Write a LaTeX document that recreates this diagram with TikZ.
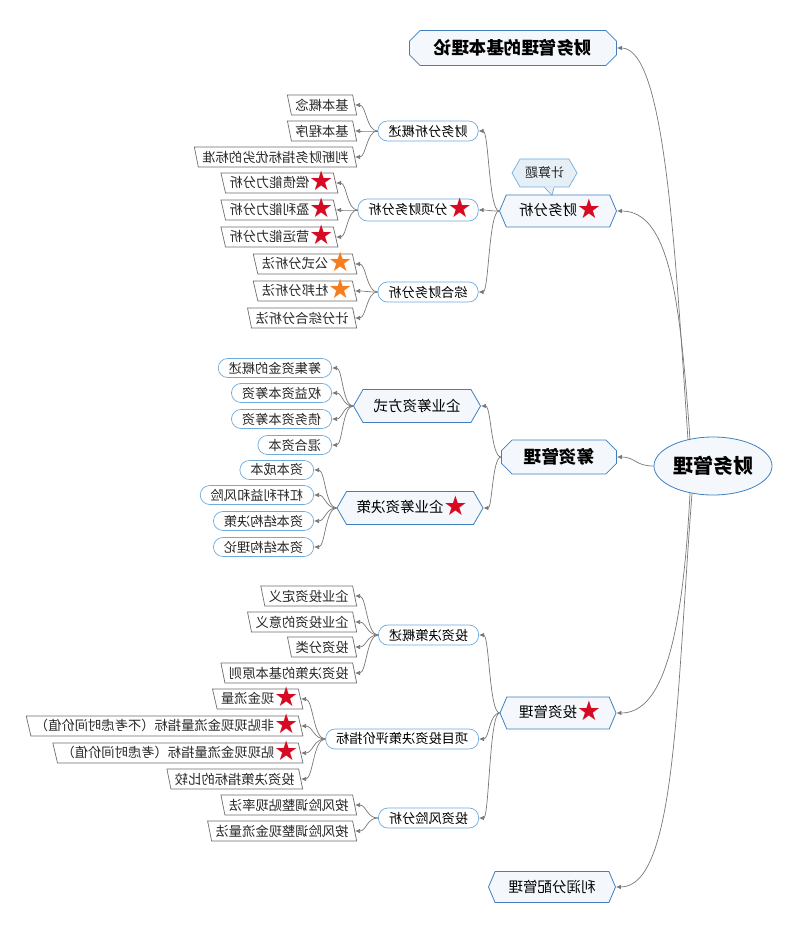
\documentclass[tikz,border=0pt]{standalone}
\usepackage{fontspec}
\setmainfont{Noto Sans CJK SC}
\newfontfamily\starfont{DejaVu Sans}
\usetikzlibrary{shapes.geometric,shapes.misc,shapes.symbols,arrows.meta,calc}
\definecolor{mblue}{RGB}{64,128,190}
\definecolor{mfill}{RGB}{244,248,252}
\definecolor{lblue}{RGB}{110,172,222}
\definecolor{lgray}{RGB}{110,110,110}
\definecolor{egray}{RGB}{120,120,120}
\definecolor{cfill}{RGB}{230,238,246}
\definecolor{cblue}{RGB}{110,175,225}
\definecolor{sred}{RGB}{215,10,35}
\definecolor{sorg}{RGB}{245,125,30}
\definecolor{tgray}{RGB}{40,40,40}
\newcommand{\redstar}{\makebox[16pt][c]{\raisebox{-3pt}{\smash{\starfont\fontsize{27}{27}\selectfont\textcolor{sred}{★}}}}\hspace{4pt}}
\newcommand{\orgstar}{\makebox[16pt][c]{\raisebox{-3pt}{\smash{\starfont\fontsize{27}{27}\selectfont\textcolor{sorg}{★}}}}\hspace{4pt}}
\tikzset{
  rootn/.style={ellipse, draw=mblue, fill=mfill, line width=0.8pt, minimum width=118pt, minimum height=58pt, inner sep=0pt, font=\fontsize{20}{22}\selectfont\bfseries},
  octn/.style={chamfered rectangle, chamfered rectangle xsep=7pt, draw=mblue, fill=mfill, line width=0.8pt, inner sep=0pt, font=\fontsize{17.5}{19}\selectfont\bfseries},
  hexn/.style={signal, signal to=east and west, signal pointer angle=134, draw=mblue, fill=mfill, line width=0.8pt, inner xsep=2pt, inner ysep=0pt, minimum height=32pt, font=\fontsize{14.5}{16}\selectfont},
  subhex/.style={hexn, signal pointer angle=120, minimum height=33pt},
  caln/.style={signal, signal to=east and west, signal pointer angle=120, draw=cblue, fill=cfill, line width=0.7pt, inner xsep=2pt, inner ysep=0pt, minimum width=65pt, minimum height=28pt, text=tgray, font=\fontsize{13}{15}\selectfont},
  pill/.style={rectangle, rounded corners=9.5pt, draw=lblue, fill=white, line width=0.7pt, minimum height=20pt, inner xsep=10.5pt, inner ysep=0pt, font=\fontsize{13.2}{15}\selectfont},
  leafr/.style={pill, text=tgray, minimum height=19pt},
  leafp/.style={trapezium, trapezium left angle=72, trapezium right angle=108, trapezium stretches body, draw=lgray, fill=white, line width=0.7pt, minimum height=20pt, inner xsep=4pt, inner ysep=0pt, text=tgray, font=\fontsize{13.3}{15}\selectfont},
  arr/.style={draw=egray, line width=0.7pt, -{Latex[length=5pt,width=4.5pt]}},
  sc/.style={to path={let \p1=(\tikztostart), \p2=(\tikztotarget) in (\tikztostart) .. controls ({(\x1+\x2)/2},\y1) and ({(\x1+\x2)/2},\y2) .. (\tikztotarget) \tikztonodes}}
}
\begin{document}
\begin{tikzpicture}[x=1pt,y=-1pt, every node/.append style={xscale=-1}]
\fill[white] (0,0) rectangle (800,933);
\useasboundingbox (0,0) rectangle (800,933);

% level 0 and 1
\node[rootn] (root) at (713,466) {财务管理};
\node[octn, minimum width=207pt, minimum height=35pt] (top) at (513,48) {财务管理的基本理论};
\node[hexn, minimum width=117pt] (fa) at (558,211) {\redstar 财务分析};
\node[caln] (cal) at (544.5,173) {计算题};
\node[octn, minimum width=115pt, minimum height=34pt] (cz) at (559,457) {筹资管理};
\node[hexn, minimum width=116pt] (tz) at (558,713) {\redstar 投资管理};
\node[hexn, minimum width=127pt, minimum height=31pt] (lr) at (552,887) {利润分配管理};

% callout tail
\fill[cfill] ($(cal.south)+(0,-1)$) -- ($(cal.south)+(7.5,8)$) -- ($(cal.south)+(9.5,-1)$) -- cycle;
\draw[cblue, line width=0.7pt] (cal.south) -- ($(cal.south)+(7.5,8)$) -- ($(cal.south)+(9.5,0)$);

% level 2
\node[pill, anchor=west] (fa1) at (478.5,131) {财务分析概述};
\node[pill, anchor=west, minimum height=22pt] (fa2) at (478.5,210) {\redstar 分项财务分析};
\node[pill, anchor=west] (fa3) at (478.5,292) {综合财务分析};
\node[subhex, minimum width=127pt] (cz1) at (417,406) {企业筹资方式};
\node[subhex, minimum width=146pt] (cz2) at (410,508) {\redstar 企业筹资决策};
\node[pill, anchor=west] (tz1) at (479,635) {投资决策概述};
\node[pill, anchor=west] (tz2) at (479,739) {项目投资决策评价指标};
\node[pill, anchor=west] (tz3) at (479,818) {投资风险分析};

% leaves
\node[leafp, anchor=west] (a1) at (355,105) {基本概念};
\node[leafp, anchor=west] (a2) at (355,131) {基本程序};
\node[leafp, anchor=west] (a3) at (355,157) {判断财务指标优劣的标准};
\node[leafp, anchor=west] (b1) at (336,183) {\redstar 偿债能力分析};
\node[leafp, anchor=west] (b2) at (336,210) {\redstar 盈利能力分析};
\node[leafp, anchor=west] (b3) at (336,237) {\redstar 营运能力分析};
\node[leafp, anchor=west] (c1) at (355,264) {\orgstar 公式分析法};
\node[leafp, anchor=west] (c2) at (355,291) {\orgstar 杜邦分析法};
\node[leafp, anchor=west] (c3) at (355,318) {计分综合分析法};
\node[leafr, anchor=west] (d1) at (332,368) {筹集资金的概述};
\node[leafr, anchor=west] (d2) at (332,393) {权益资本筹资};
\node[leafr, anchor=west] (d3) at (332,419) {债务资本筹资};
\node[leafr, anchor=west] (d4) at (332,445) {混合资本};
\node[leafr, anchor=west] (e1) at (314,470) {资本成本};
\node[leafr, anchor=west] (e2) at (314,495) {杠杆利益和风险};
\node[leafr, anchor=west] (e3) at (314,521) {资本结构决策};
\node[leafr, anchor=west] (e4) at (314,547) {资本结构理论};
\node[leafp, anchor=west] (f1) at (355,596) {企业投资定义};
\node[leafp, anchor=west] (f2) at (355,622) {企业投资的意义};
\node[leafp, anchor=west] (f3) at (355,647) {投资分类};
\node[leafp, anchor=west] (f4) at (355,673) {投资决策的基本原则};
\node[leafp, anchor=west] (g1) at (301,699) {\redstar 现金流量};
\node[leafp, anchor=west] (g2) at (301,726) {\redstar 非贴现现金流量指标（不考虑时间价值）};
\node[leafp, anchor=west] (g3) at (301,753) {\redstar 贴现现金流量指标（考虑时间价值）};
\node[leafp, anchor=west] (g4) at (301,779) {投资决策指标的比较};
\node[leafp, anchor=west] (h1) at (355,805) {按风险调整贴现率法};
\node[leafp, anchor=west] (h2) at (355,831) {按风险调整现金流量法};

% root edges
\draw[arr] ($(root.center)+(-25,-26)$) .. controls (675,250) and (665,48) .. (top.west);
\draw[arr] ($(root.center)+(-23,-26.5)$) .. controls (680,300) and (670,211) .. (fa.west);
\draw[arr, sc] (root.east) to (cz.west);
\draw[arr] ($(root.center)+(-23,27)$) .. controls (682,650) and (660,713) .. (tz.west);
\draw[arr] ($(root.center)+(-21,27.5)$) .. controls (676,700) and (676,887) .. (lr.west);

% level 1 -> 2
\foreach \k in {fa1,fa2,fa3} \draw[arr, sc] (fa.east) to (\k.west);
\foreach \k in {cz1,cz2} \draw[arr, sc] (cz.east) to (\k.west);
\foreach \k in {tz1,tz2,tz3} \draw[arr, sc] (tz.east) to (\k.west);

% level 2 -> leaves
\foreach \k in {a1,a2,a3} \draw[arr, sc] (fa1.east) to (\k.west);
\foreach \k in {b1,b2,b3} \draw[arr, sc] (fa2.east) to (\k.west);
\foreach \k in {c1,c2,c3} \draw[arr, sc] (fa3.east) to (\k.west);
\foreach \k in {d1,d2,d3,d4} \draw[arr, sc] (cz1.east) to (\k.west);
\foreach \k in {e1,e2,e3,e4} \draw[arr, sc] (cz2.east) to (\k.west);
\foreach \k in {f1,f2,f3,f4} \draw[arr, sc] (tz1.east) to (\k.west);
\foreach \k in {g1,g2,g3,g4} \draw[arr, sc] (tz2.east) to (\k.west);
\foreach \k in {h1,h2} \draw[arr, sc] (tz3.east) to (\k.west);
\end{tikzpicture}
\end{document}
